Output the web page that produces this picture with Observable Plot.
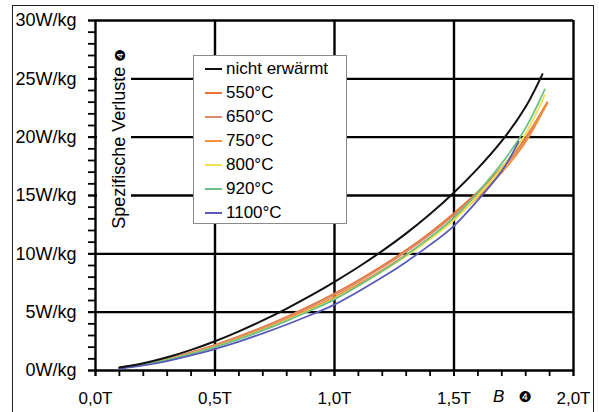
<!DOCTYPE html>
<html><head><meta charset="utf-8">
<script src="https://cdn.jsdelivr.net/npm/d3@7"></script>
<script src="https://cdn.jsdelivr.net/npm/@observablehq/plot@0.6"></script>
<style>
body{margin:0;background:#fff;overflow:hidden}
#wrap{position:relative;width:599px;height:412px;overflow:hidden;font-family:"Liberation Sans",Arial,sans-serif;color:#000}
#wrap svg{position:absolute;left:0;top:0}
#border{position:absolute;left:12px;top:5px;width:580px;height:440px;border:1.5px solid #222}
#mask{position:absolute;left:97px;top:40px;width:34px;height:205px;background:#fff}
#ylab{position:absolute;left:119px;top:139px;transform:translate(-50%,-50%) rotate(-90deg);white-space:nowrap;font-size:18px;line-height:20px}
.sym{font-family:"DejaVu Sans";font-size:14px}
#xlab{position:absolute;left:493px;top:387px;font-size:17px;line-height:20px;white-space:nowrap}
#legend{position:absolute;left:193px;top:55px;width:154px;height:169px;box-sizing:border-box;border:1.5px solid #8a8a8a;background:#fff}
.row{position:absolute;left:0;height:24px;line-height:24px;font-size:17px;white-space:nowrap}
.sw{position:absolute;left:11px;top:11px;width:17px;height:2px}
.lt{position:absolute;left:32px;top:0}
</style></head>
<body>
<div id="wrap">
<div id="border"></div>
<div id="chart"></div>
<div id="mask"></div>
<div id="ylab">Spezifische Verluste <span class="sym">❹</span></div>
<div id="xlab"><i>B</i>&nbsp;&nbsp;&nbsp;<span class="sym" style="font-size:15px">❹</span></div>
<div id="legend"></div>
</div>
<script>
const bGrid = [0.1,0.2,0.3,0.4,0.5,0.6,0.7,0.8,0.9,1.0,1.1,1.2,1.3,1.4,1.5,1.6,1.7,1.8];
const names = ["nicht erwärmt","550°C","650°C","750°C","800°C","920°C","1100°C"];
const colors = ["#111111","#e8743a","#d98b6b","#f5913a","#f0e34a","#6cc08a","#5a5ab8"];
const endB = [1.87,1.89,1.87,1.89,1.88,1.88,1.77];
const vNicht = [0.25,0.62,1.13,1.77,2.51,3.36,4.29,5.31,6.41,7.6,8.87,10.25,11.75,13.41,15.26,17.33,19.68,22.6,25.4];
const v550  = [0.25,0.57,1.01,1.56,2.2,2.93,3.73,4.61,5.56,6.59,7.73,8.97,10.32,11.81,13.48,15.32,17.41,19.99,23.0];
const v650  = [0.25,0.56,0.99,1.53,2.16,2.88,3.67,4.54,5.48,6.49,7.62,8.85,10.18,11.66,13.3,15.14,17.23,19.8,22.3];
const v750  = [0.2,0.51,0.93,1.46,2.07,2.78,3.55,4.4,5.31,6.3,7.41,8.62,9.93,11.38,13.0,14.86,16.98,19.6,22.9];
const v800  = [0.2,0.5,0.91,1.43,2.03,2.72,3.47,4.3,5.19,6.15,7.27,8.49,9.81,11.27,12.9,14.99,17.36,20.3,23.6];
const v920  = [0.2,0.5,0.91,1.42,2.01,2.69,3.44,4.26,5.14,6.1,7.26,8.52,9.89,11.41,13.1,15.28,17.75,20.8,24.1];
const v1100 = [0.15,0.43,0.81,1.29,1.84,2.48,3.18,3.94,4.76,5.65,6.77,7.99,9.31,10.77,12.4,14.6,17.1,19.6];
const seriesValues = [vNicht,v550,v650,v750,v800,v920,v1100];
const xMajor = [0,0.5,1.0,1.5,2.0];
const xMinor = d3.range(0,21).map(d=>d/10);
const yMajor = [0,5,10,15,20,25,30];
const yMinor = d3.range(0,31);

const data = [];
names.forEach((n,i)=>{
  const vals = seriesValues[i];
  vals.forEach((v,j)=>{
    data.push({series:n, B: j < vals.length-1 ? bGrid[j] : endB[i], P:v});
  });
});
const colored = data.filter(d=>d.series!==names[0]);
const black = data.filter(d=>d.series===names[0]);

const chart = Plot.plot({
  width:599, height:412,
  marginLeft:95, marginRight:26, marginTop:20, marginBottom:42,
  style:{background:"transparent", fontFamily:"'Liberation Sans', Arial, sans-serif", fontSize:"17px", color:"#000"},
  x:{domain:[0,2]},
  y:{domain:[0,30]},
  color:{domain:names, range:colors},
  marks:[
    Plot.ruleY(yMajor,{stroke:"#000", strokeWidth:2.4}),
    Plot.ruleX(xMajor,{stroke:"#000", strokeWidth:2.4}),
    Plot.axisY(yMinor,{tickSize:7, tickFormat:()=>"", strokeWidth:1.8, label:null}),
    Plot.axisY(yMajor,{tickSize:7, tickPadding:12, strokeWidth:2, fontSize:18, tickFormat:d=>d+"W/kg", label:null}),
    Plot.axisX(xMinor,{tickSize:6, tickFormat:()=>"", strokeWidth:1.8, label:null}),
    Plot.axisX(xMajor,{tickSize:6, tickPadding:15, strokeWidth:2, fontSize:17, tickFormat:d=>d.toFixed(1).replace(".",",")+"T", label:null}),
    Plot.line(colored,{x:"B", y:"P", z:"series", stroke:"series", curve:"natural", strokeWidth:1.8}),
    Plot.line(black,{x:"B", y:"P", stroke:"series", curve:"natural", strokeWidth:2})
  ]
});
document.getElementById("chart").appendChild(chart);

const leg = document.getElementById("legend");
names.forEach((n,i)=>{
  const r = document.createElement("div");
  r.className="row";
  r.style.top = (1 + 24*i) + "px";
  r.innerHTML = `<div class="sw" style="background:${colors[i]}"></div><div class="lt">${n}</div>`;
  leg.appendChild(r);
});
</script>
</body></html>
